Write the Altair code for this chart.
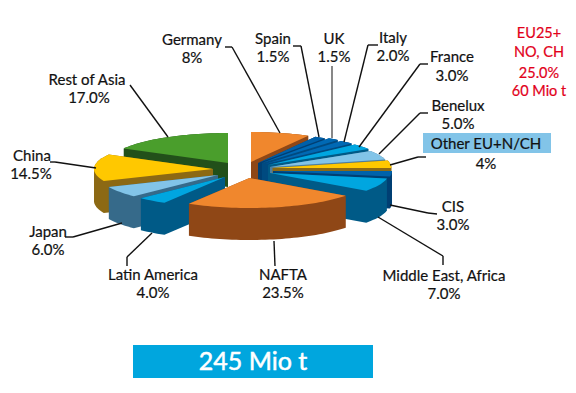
import math
import altair as alt
import pandas as pd

# ---- data -------------------------------------------------------------
names = ["Germany", "Spain", "UK", "Italy", "France", "Benelux", "Other EU+N/CH",
         "CIS", "Middle East, Africa", "NAFTA", "Latin America", "Japan", "China", "Rest of Asia"]
shares = [8.0, 1.5, 1.5, 2.0, 3.0, 5.0, 4.0, 3.0, 7.0, 23.5, 4.0, 6.0, 14.5, 17.0]
share_text = ["8%", "1.5%", "1.5%", "2.0%", "3.0%", "5.0%", "4%", "3.0%", "7.0%",
              "23.5%", "4.0%", "6.0%", "14.5%", "17.0%"]

# ---- styling / layout ---------------------------------------------------
top_colors = ["#F0872D", "#0060A9", "#0069B4", "#0069B4", "#00A6E0", "#82C4E8", "#FFC800",
              "#0062AA", "#00A6E0", "#F0872D", "#00A6E0", "#82C4E8", "#FFC800", "#4A9E2C"]
wall_colors = ["#8F4716", "#003F73", "#004A80", "#004A80", "#005A87", "#4E7FA0", "#8C6914",
               "#003F73", "#005A87", "#8F4716", "#005A87", "#366A8A", "#8C6914", "#22501A"]
apex = {"Germany": (251, 162), "Spain": (258, 163), "UK": (262, 163), "Italy": (265, 164),
        "France": (268, 165), "Benelux": (270, 167), "Other EU+N/CH": (272.5, 168),
        "CIS": (273, 171), "Middle East, Africa": (270, 173), "NAFTA": (249.5, 178),
        "Latin America": (225, 177), "Japan": (218, 175), "China": (213, 169), "Rest of Asia": (228, 163)}
depth = {n: 32 for n in names}
depth["Rest of Asia"] = 24
RX, RY = 119, 30
paint_order = ["Rest of Asia", "China", "Japan", "Latin America", "Germany", "Spain", "UK", "Italy",
               "France", "Benelux", "Other EU+N/CH", "CIS", "Middle East, Africa", "NAFTA"]
M = 8  # page margin


def hull(pts):
    pts = sorted(set(pts))
    def half(seq):
        out = []
        for p in seq:
            while len(out) > 1 and (out[-1][0]-out[-2][0])*(p[1]-out[-2][1]) - (out[-1][1]-out[-2][1])*(p[0]-out[-2][0]) <= 0:
                out.pop()
            out.append(p)
        return out[:-1]
    return half(pts) + half(pts[::-1])


def feature(points, color):
    ring = [[x - M, y - M] for x, y in points]
    ring.append(ring[0])
    return {"type": "Feature", "properties": {"color": color},
            "geometry": {"type": "Polygon", "coordinates": [ring]}}


bounds = {}
cum = 0.0
for n, s in zip(names, shares):
    bounds[n] = (cum / 100 * 2 * math.pi, (cum + s) / 100 * 2 * math.pi)
    cum += s

features = []
for n in paint_order:
    i = names.index(n)
    cx, cy = apex[n]
    a0, a1 = bounds[n]
    steps = max(3, int((a1 - a0) / math.radians(2)))
    rim = [(cx + RX * math.sin(a0 + (a1 - a0) * k / steps),
            cy - RY * math.cos(a0 + (a1 - a0) * k / steps)) for k in range(steps + 1)]
    top = [(cx, cy)] + rim
    low = [(x, y + depth[n]) for x, y in top]
    features.append(feature(hull(top + low), wall_colors[i]))
    features.append(feature(top, top_colors[i]))

pie = (alt.Chart(alt.Data(values=features))
       .mark_geoshape(strokeWidth=0)
       .encode(color=alt.Color("properties.color:N", scale=None, legend=None))
       .project(type="identity", scale=1, translate=[0, 0]))

FONT = "Lato"
FS = 15
one = pd.DataFrame({"a": [0]})


def text(s, x, y, size=FS, color="#111111", stroke=0.2):
    return (alt.Chart(one)
            .mark_text(text=s, font=FONT, fontSize=size, color=color, stroke=color, strokeWidth=stroke,
                       align="center", baseline="middle")
            .encode(x=alt.value(x - M), y=alt.value(y - M + 0.5)))


def seg(p, q, color="#111111", w=1.4):
    return (alt.Chart(one).mark_rule(color=color, strokeWidth=w)
            .encode(x=alt.value(p[0] - M), y=alt.value(p[1] - M),
                    x2=alt.value(q[0] - M), y2=alt.value(q[1] - M)))


def box(x0, y0, x1, y1, color):
    return (alt.Chart(one).mark_rect(color=color)
            .encode(x=alt.value(x0 - M), y=alt.value(y0 - M),
                    x2=alt.value(x1 - M), y2=alt.value(y1 - M)))


leaders = {
    "Germany": [(225, 47), (232, 47), (280, 133)],
    "Spain": [(293, 46), (301, 46), (319, 137)],
    "UK": [(332, 66), (332, 138)],
    "Italy": [(378, 45), (368, 45), (344, 142)],
    "France": [(428, 64), (420, 64), (359, 147)],
    "Benelux": [(428, 113), (420, 113), (379, 154)],
    "Other EU+N/CH": [(426, 157), (418, 157), (390, 165)],
    "CIS": [(437, 214), (428, 213), (390, 205)],
    "Middle East, Africa": [(443, 265), (443, 256), (378, 217)],
    "NAFTA": [(275, 266), (274, 241)],
    "Latin America": [(127, 266), (127, 257), (152, 233)],
    "Japan": [(65, 237), (73, 237), (122, 223)],
    "China": [(50, 162), (55, 162), (96, 168)],
    "Rest of Asia": [(130, 85), (168, 137)],
}
label_pos = {
    "Germany": ((192, 39), (192, 57)),
    "Spain": ((273, 38), (273, 56)),
    "UK": ((334, 38), (334, 56)),
    "Italy": ((393, 37), (393, 55)),
    "France": ((452, 56), (452, 75)),
    "Benelux": ((458, 105), (458, 123)),
    "Other EU+N/CH": ((486, 143), (486, 163)),
    "CIS": ((453, 206), (453, 224)),
    "Middle East, Africa": ((444, 275), (444, 293)),
    "NAFTA": ((283, 274), (283, 292)),
    "Latin America": ((153, 274), (153, 292)),
    "Japan": ((48, 231), (48, 249)),
    "China": ((32, 155), (31, 173)),
    "Rest of Asia": ((87, 79), (89, 97)),
}
red_lines = [("EU25+", 33), ("NO, CH", 52), ("25.0%", 73), ("60 Mio t", 91)]

layers = [pie, box(423, 133, 551, 153, "#82C4E8"), box(133, 345, 373, 378, "#00A6DE")]
for n, pts in leaders.items():
    col = "#555555" if n == "UK" else "#111111"
    for p, q in zip(pts, pts[1:]):
        layers.append(seg(p, q, col))
for n, st in zip(names, share_text):
    (a, b) = label_pos[n]
    layers.append(text(n, a[0], a[1]))
    layers.append(text(st, b[0], b[1]))
for s, y in red_lines:
    layers.append(text(s, 539, y, size=14.5, color="#E2001A"))
layers.append(text("245 Mio t", 253, 361, size=25, color="#FFFFFF", stroke=0.5))

chart = (alt.layer(*layers)
         .properties(width=560, height=377, padding=0, background="white",
                     autosize=alt.AutoSizeParams(type="none"))
         .configure_view(stroke=None))

chart.save("out.html", embed_options={"renderer": "svg", "actions": False})
